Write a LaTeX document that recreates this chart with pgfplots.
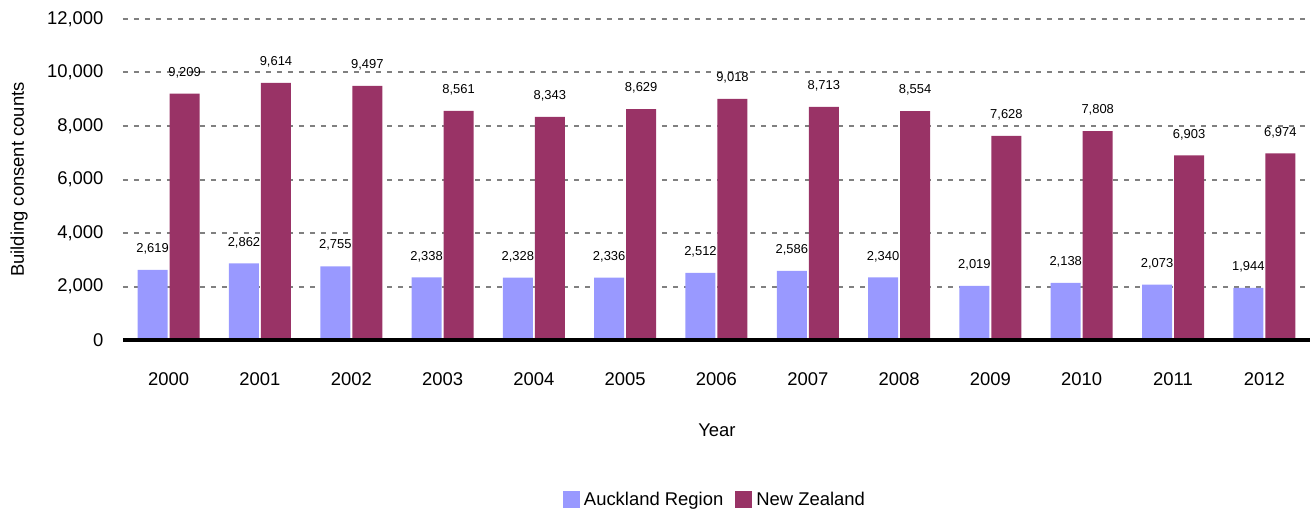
\documentclass[border=0pt]{standalone}
\usepackage{fontspec}
\setmainfont{Liberation Sans}
\usepackage{pgfplots}
\pgfplotsset{compat=1.18}
\definecolor{akl}{HTML}{9999FF}
\definecolor{nz}{HTML}{993366}
\definecolor{gridc}{HTML}{808080}
\begin{document}
\begin{tikzpicture}
\begin{axis}[
  at={(0,0)}, anchor=south west,
  scale only axis, width=1187bp, height=321bp,
  xmin=-0.5, xmax=12.5, ymin=0, ymax=12000,
  ybar, bar width=30bp,
  axis line style={draw=none},
  axis x line*=bottom,
  xtick={0,...,12},
  xticklabels={2000,2001,2002,2003,2004,2005,2006,2007,2008,2009,2010,2011,2012},
  ytick={0,2000,...,12000},
  scaled y ticks=false,
  yticklabel={\pgfmathprintnumber{\tick}},
  ymajorgrids,
  grid style={gridc, line width=2bp, dash pattern=on 5bp off 6bp},
  major tick length=0pt,
  /pgf/number format/.cd, 1000 sep={,}, fixed, precision=0, assume math mode=true,
  /pgfplots/.cd,
  tick label style={font=\fontsize{18.5}{21}\selectfont},
  yticklabel style={xshift=-16bp},
  xticklabel style={yshift=-29bp},
  xlabel={Year},
  xlabel style={font=\fontsize{18.5}{21}\selectfont, at={(axis description cs:0.5004,-0.28)}, anchor=center},
  ylabel={Building consent counts},
  ylabel style={font=\fontsize{18.5}{21}\selectfont, at={(axis description cs:-0.0875,0.5)}, anchor=center},
  nodes near coords,
  every node near coord/.append style={anchor=center, yshift=21bp, font=\fontsize{13}{15}\selectfont, black},
  legend style={draw=none, at={(axis description cs:0.4987,-0.498)}, anchor=center,
    font=\fontsize{18.5}{21}\selectfont, legend columns=-1,
    /tikz/every odd column/.append style={column sep=2bp},
    /tikz/every even column/.append style={column sep=10bp}},
  legend image code/.code={\fill[#1] (0bp,-8.5bp) rectangle (17bp,8.5bp);},
  clip=false,
]
\addplot[fill=akl, draw=none, bar shift=-16bp] coordinates {
(0,2619) (1,2862) (2,2755) (3,2338) (4,2328) (5,2336) (6,2512) (7,2586) (8,2340) (9,2019) (10,2138) (11,2073) (12,1944)};
\addplot[fill=nz, draw=none, bar shift=16bp] coordinates {
(0,9209) (1,9614) (2,9497) (3,8561) (4,8343) (5,8629) (6,9018) (7,8713) (8,8554) (9,7628) (10,7808) (11,6903) (12,6974)};
\legend{Auckland Region, New Zealand}
\draw[black, line width=4bp] (axis cs:-0.5,0) -- (axis cs:12.5,0);
\end{axis}
\pgfresetboundingbox
\path (-123bp,-175bp) rectangle (1187bp,340bp);
\end{tikzpicture}
\end{document}
